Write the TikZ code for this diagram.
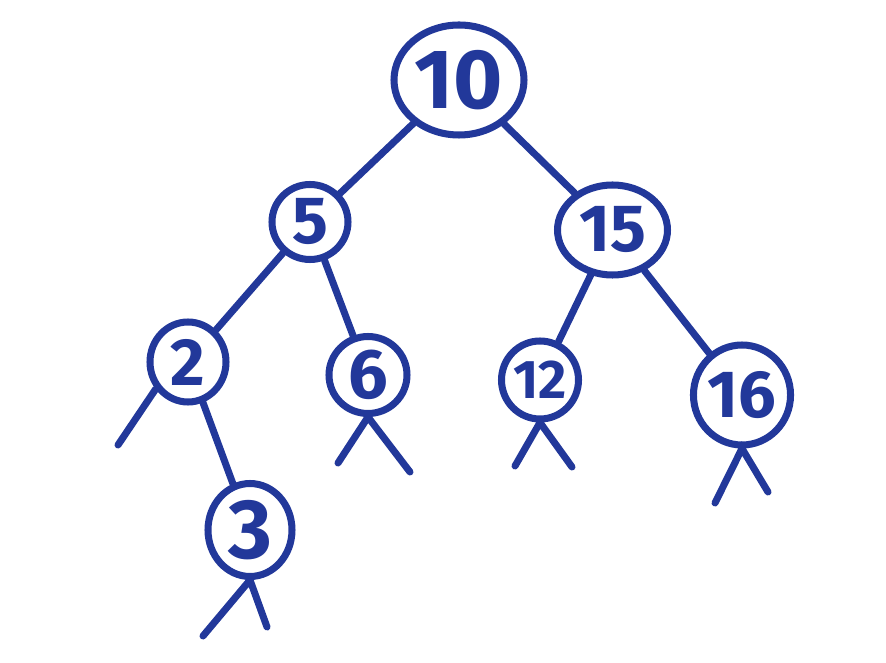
\documentclass[tikz,border=0pt]{standalone}
\usepackage{fontspec}
\setsansfont{Fira Sans}
\usetikzlibrary{shapes.geometric, positioning, calc}

\definecolor{marker}{HTML}{22389A}

\tikzset{
  bstnode/.style={draw=marker, ellipse, line width=4pt, inner sep=0pt,
    text=marker},
  link/.style={draw=marker, line width=4pt, line cap=round},
}
\newcommand{\keysize}[1]{\sffamily\bfseries\fontsize{#1}{#1}\selectfont}

\begin{document}
\begin{tikzpicture}
\useasboundingbox (0,0) rectangle (17.72,-13.26);

% Tree nodes
\node[bstnode, minimum width=2.6cm, minimum height=2.2cm, font=\keysize{48}] (n10) at (9.18,-1.6) {10};
\node[bstnode, minimum width=1.52cm, minimum height=1.5cm, font=\keysize{38}] (n5) at (6.2,-4.44) {5};
\node[bstnode, minimum width=2.2cm, minimum height=1.8cm, font=\keysize{38}] (n15) at (12.25,-4.6) {15};
\node[bstnode, minimum width=1.52cm, minimum height=1.6cm, font=\keysize{38}] (n2) at (3.76,-7.24) {2};
\node[bstnode, minimum width=1.56cm, minimum height=1.54cm, font=\keysize{40}] (n6) at (7.36,-7.5) {6};
\node[bstnode, minimum width=1.54cm, minimum height=1.56cm, font=\keysize{31}] (n12) at (10.8,-7.6) {12};
\node[bstnode, minimum width=1.7cm, minimum height=2.0cm, font=\keysize{38}] (n16) at (14.84,-7.9) {16};
\node[bstnode, minimum width=1.68cm, minimum height=1.86cm, font=\keysize{48}] (n3) at (5.0,-10.6) {3};

% Edges
\draw[link] (n10) -- (n5);
\draw[link] (n10) -- (n15);
\draw[link] (n5) -- (n2);
\draw[link] (n5) -- (n6);
\draw[link] (n15) -- (n12);
\draw[link] (n15) -- (n16);
\draw[link] (n2) -- (n3);

% Empty subtrees
\coordinate (e2l) at (2.36,-8.9);
\coordinate (e6l) at (6.76,-9.26);
\coordinate (e6r) at (8.2,-9.44);
\coordinate (e12l) at (10.3,-9.32);
\coordinate (e12r) at (11.44,-9.34);
\coordinate (e16l) at (14.3,-10.06);
\coordinate (e16r) at (15.36,-9.84);
\coordinate (e3l) at (4.06,-12.72);
\coordinate (e3r) at (5.34,-12.54);

\draw[link] (n2.220) -- (e2l);
\draw[link] (e6l) -- (n6.south) -- (e6r);
\draw[link] (e12l) -- (n12.south) -- (e12r);
\draw[link] (e16l) -- (n16.south) -- (e16r);
\draw[link] (e3l) -- (n3.south) -- (e3r);
\end{tikzpicture}
\end{document}
